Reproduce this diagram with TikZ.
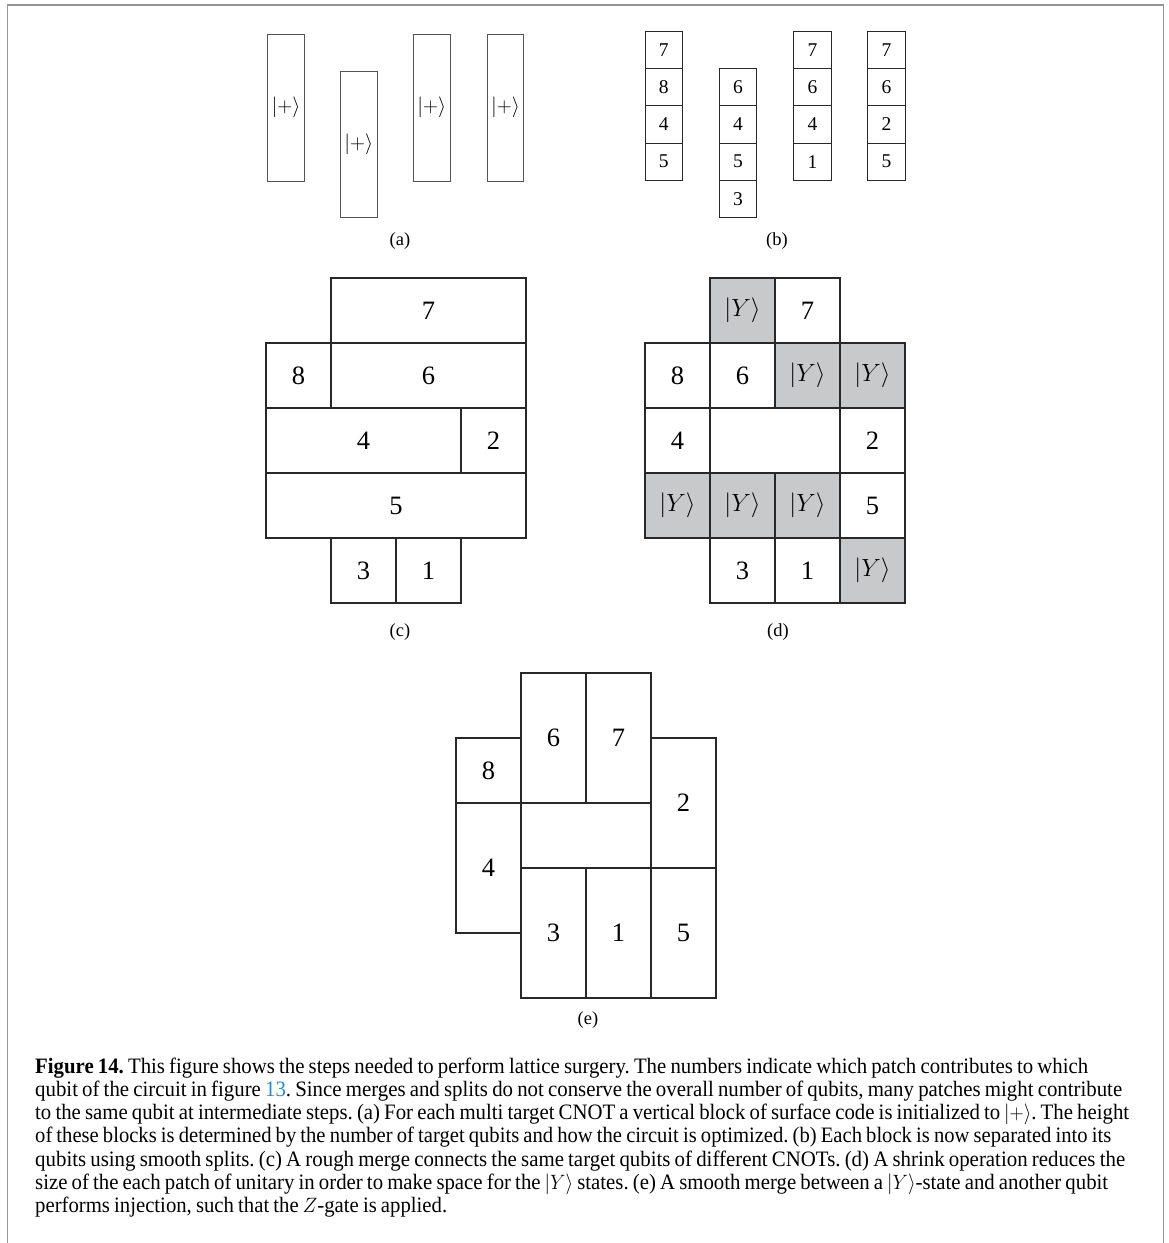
\documentclass[tikz,border=0pt]{standalone}
\usepackage{fontspec}
\setmainfont{Liberation Serif}
\usepackage{graphicx}
\frenchspacing
\definecolor{ygray}{RGB}{200,201,203}
\definecolor{linkblue}{RGB}{30,140,205}
\definecolor{framec}{RGB}{150,150,150}
\definecolor{edgec}{RGB}{40,40,40}
\newsavebox\fitbox
\newcommand\fitline[2]{\sbox\fitbox{\frenchspacing\spaceskip=0.2em plus 0.1em minus 0.05em #2}\pgfmathsetmacro\fitratio{#1/\the\wd\fitbox}\scalebox{\fitratio}[1]{\usebox\fitbox}}
\tikzset{
  tall/.style={draw=edgec!80, line width=1pt, inner sep=0pt, minimum width=36.5pt, minimum height=146.7pt, font=\fontsize{22}{26}\selectfont},
  small/.style={draw=edgec, line width=1pt, inner sep=0pt, minimum width=37.4pt, minimum height=37.1pt, font=\fontsize{19.5}{22}\selectfont},
  cellbox/.style={draw=edgec, line width=1.3pt, inner sep=0pt, minimum width=65pt, minimum height=65pt, font=\fontsize{26.5}{30}\selectfont},
  ycell/.style={cellbox, fill=ygray, font=\fontsize{30}{32}\selectfont},
  sublabel/.style={inner sep=0pt, font=\fontsize{18.5}{20}\selectfont},
  capline/.style={anchor=base west, inner sep=0pt, font=\fontsize{22}{24}\selectfont}
}
\begin{document}
\begin{tikzpicture}[x=1pt,y=-1pt]
\useasboundingbox (0,0) rectangle (1168,1243);
% page frame
\coordinate (fbl) at (7.5,1243);
\coordinate (ftl) at (7.5,5);
\coordinate (ftr) at (1163.5,5);
\coordinate (fbr) at (1163.5,1243);
\draw[framec, line width=1.6pt] (fbl) -- (ftl) -- (ftr) -- (fbr);

% (a)
\node[tall] (a1) at (286,107.7) {$|+\rangle$};
\node[tall] (a2) at (358.8,144.4) {$|+\rangle$};
\node[tall] (a3) at (431.8,107.7) {$|+\rangle$};
\node[tall] (a4) at (505.5,107.7) {$|+\rangle$};
\node[sublabel] (la) at (400,241) {(a)};

% (b)
\node[small] (b11) at (663.8,50.3) {7};
\node[small] (b12) at (663.8,87.4) {8};
\node[small] (b13) at (663.8,124.5) {4};
\node[small] (b14) at (663.8,161.6) {5};
\node[small] (b21) at (737.9,87.4) {6};
\node[small] (b22) at (737.9,124.5) {4};
\node[small] (b23) at (737.9,161.6) {5};
\node[small] (b24) at (737.9,198.7) {3};
\node[small] (b31) at (812.5,50.3) {7};
\node[small] (b32) at (812.5,87.4) {6};
\node[small] (b33) at (812.5,124.5) {4};
\node[small] (b34) at (812.5,161.6) {1};
\node[small] (b41) at (886.5,50.3) {7};
\node[small] (b42) at (886.5,87.4) {6};
\node[small] (b43) at (886.5,124.5) {2};
\node[small] (b44) at (886.5,161.6) {5};
\node[sublabel] (lb) at (777,241) {(b)};

% (c)
\node[cellbox, minimum width=195pt] (c7) at (428.5,310.5) {7};
\node[cellbox] (c8) at (298.5,375.5) {8};
\node[cellbox, minimum width=195pt] (c6) at (428.5,375.5) {6};
\node[cellbox, minimum width=195pt] (c4) at (363.5,440.5) {4};
\node[cellbox] (c2) at (493.5,440.5) {2};
\node[cellbox, minimum width=260pt] (c5) at (396,505.5) {5};
\node[cellbox] (c3) at (363.5,570.5) {3};
\node[cellbox] (c1) at (428.5,570.5) {1};
\node[sublabel] (lc) at (400,632) {(c)};

% (d)
\node[ycell] (dy1) at (742.5,310.5) {$|Y\rangle$};
\node[cellbox] (d7) at (807.5,310.5) {7};
\node[cellbox] (d8) at (677.5,375.5) {8};
\node[cellbox] (d6) at (742.5,375.5) {6};
\node[ycell] (dy2) at (807.5,375.5) {$|Y\rangle$};
\node[ycell] (dy3) at (872.5,375.5) {$|Y\rangle$};
\node[cellbox] (d4) at (677.5,440.5) {4};
\node[cellbox, minimum width=130pt] (dm) at (775,440.5) {};
\node[cellbox] (d2) at (872.5,440.5) {2};
\node[ycell] (dy4) at (677.5,505.5) {$|Y\rangle$};
\node[ycell] (dy5) at (742.5,505.5) {$|Y\rangle$};
\node[ycell] (dy6) at (807.5,505.5) {$|Y\rangle$};
\node[cellbox] (d5) at (872.5,505.5) {5};
\node[cellbox] (d3) at (742.5,570.5) {3};
\node[cellbox] (d1) at (807.5,570.5) {1};
\node[ycell] (dy7) at (872.5,570.5) {$|Y\rangle$};
\node[sublabel] (ld) at (778,632) {(d)};

% (e)
\node[cellbox, minimum height=130pt] (e6) at (553.5,738) {6};
\node[cellbox, minimum height=130pt] (e7) at (618.5,738) {7};
\node[cellbox] (e8) at (488.5,770.5) {8};
\node[cellbox, minimum height=130pt] (e4) at (488.5,868) {4};
\node[cellbox, minimum width=130pt] (em) at (586,835.5) {};
\node[cellbox, minimum height=130pt] (e2) at (683.5,803) {2};
\node[cellbox, minimum height=130pt] (e3) at (553.5,933) {3};
\node[cellbox, minimum height=130pt] (e1) at (618.5,933) {1};
\node[cellbox, minimum height=130pt] (e5) at (683.5,933) {5};
\node[sublabel] (le) at (588,1020) {(e)};

% caption
\node[capline] (cap1) at (35,1073) {\fitline{1053}{\textbf{Figure 14.} This figure shows the steps needed to perform lattice surgery. The numbers indicate which patch contributes to which}};
\node[capline] (cap2) at (35,1096.3) {\fitline{1087}{qubit of the circuit in figure \textcolor{linkblue}{13}. Since merges and splits do not conserve the overall number of qubits, many patches might contribute}};
\node[capline] (cap3) at (35,1119.6) {\fitline{1094}{to the same qubit at intermediate steps. (a) For each multi target CNOT a vertical block of surface code is initialized to $|+\rangle$. The height}};
\node[capline] (cap4) at (35,1142.9) {\fitline{1076}{of these blocks is determined by the number of target qubits and how the circuit is optimized. (b) Each block is now separated into its}};
\node[capline] (cap5) at (35,1166.2) {\fitline{1090}{qubits using smooth splits. (c) A rough merge connects the same target qubits of different CNOTs. (d) A shrink operation reduces the}};
\node[capline] (cap6) at (35,1189.5) {\fitline{1073}{size of the each patch of unitary in order to make space for the $|Y\rangle$ states. (e) A smooth merge between a $|Y\rangle$-state and another qubit}};
\node[capline] (cap7) at (35,1212.8) {\fitline{412}{performs injection, such that the $Z$-gate is applied.}};
\end{tikzpicture}
\end{document}
